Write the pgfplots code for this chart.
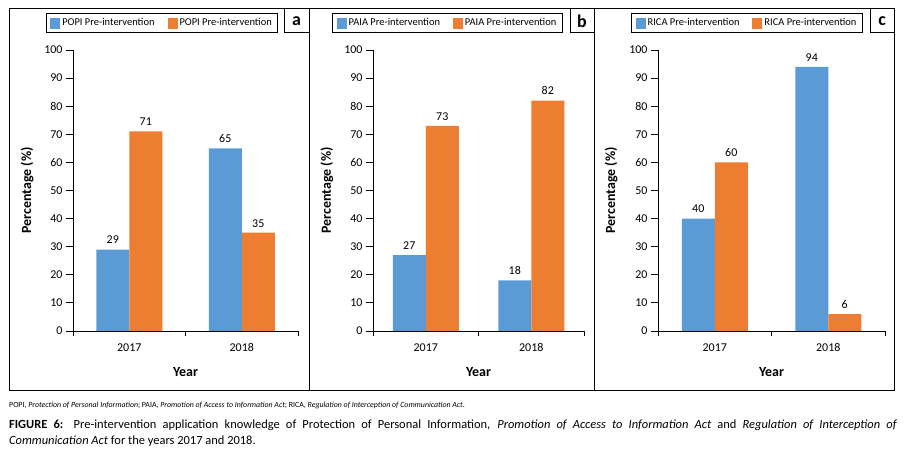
\documentclass[border=0pt]{standalone}
\usepackage{fontspec}
\setmainfont{Carlito}
\usepackage{pgfplots}
\pgfplotsset{compat=1.18}
\definecolor{cblue}{HTML}{5B9BD5}
\definecolor{corange}{HTML}{ED7D31}

\pgfplotsset{
  panel/.style n args={3}{
    scale only axis, width=#1, height=281bp,
    ymin=0, ymax=100, ytick={0,10,...,100},
    xmin=-0.5, xmax=1.5, xtick={0,1}, xticklabels={2017,2018},
    minor xtick={-0.5,0.5,1.5},
    axis lines*=left,
    axis line style={line width=0.9bp},
    tick align=outside,
    major x tick style={draw=none},
    every tick/.style={black, line width=0.9bp},
    major tick length=7bp, minor tick length=5bp,
    ybar=0pt, bar width=33bp,
    tick label style={font=\fontsize{12}{14}\selectfont},
    x tick label style={yshift=-2bp},
    /pgf/number format/assume math mode=true,
    xlabel={Year}, ylabel={Percentage (\%)},
    label style={font=\fontsize{14}{16}\selectfont\bfseries},
    xlabel style={at={(axis description cs:0.5,0)}, anchor=center, yshift=-41bp},
    ylabel style={at={(axis description cs:#2,0.5)}, anchor=center},
    nodes near coords,
    nodes near coords style={font=\fontsize{12}{14}\selectfont, yshift=2bp, black},
    legend columns=2,
    legend style={at={(#3,1.096)}, anchor=center, draw=black, line width=0.9bp,
      font=\fontsize{10.5}{12}\selectfont, inner xsep=4bp, inner ysep=3bp,
      /tikz/every even column/.append style={column sep=11bp}},
    legend image code/.code={\fill[##1, draw=none] (0bp,-5.5bp) rectangle (10bp,5.5bp);},
  }
}

\begin{document}
\begin{tikzpicture}
\useasboundingbox (0bp,0bp) rectangle (909bp,450bp);
% panel frames
\draw[line width=1bp] (9bp,441bp) rectangle (894bp,59bp);
\draw[line width=1bp] (309bp,441bp) -- (309bp,59bp);
\draw[line width=1bp] (594bp,441bp) -- (594bp,59bp);
% panel letters
\draw[line width=1bp] (284bp,441bp) rectangle (309bp,417bp);
\node[font=\fontsize{18}{20}\selectfont\bfseries] at (296.5bp,429bp) {a};
\draw[line width=1bp] (570bp,441bp) rectangle (594bp,417bp);
\node[font=\fontsize{18}{20}\selectfont\bfseries] at (582bp,429bp) {b};
\draw[line width=1bp] (870bp,441bp) rectangle (894bp,417bp);
\node[font=\fontsize{18}{20}\selectfont\bfseries] at (882bp,429bp) {c};

% (a) POPI
\begin{axis}[panel={225bp}{-0.204}{0.3956}, at={(73bp,119bp)}, anchor=south west]
\addplot[fill=cblue, draw=none] coordinates {(0,29) (1,65)};
\addplot[fill=corange, draw=none] coordinates {(0,71) (1,35)};
\addlegendentry{POPI Pre-intervention}
\addlegendentry{POPI Pre-intervention}
\end{axis}

% (b) PAIA
\begin{axis}[panel={211bp}{-0.218}{0.353}, at={(373bp,119bp)}, anchor=south west]
\addplot[fill=cblue, draw=none] coordinates {(0,27) (1,18)};
\addplot[fill=corange, draw=none] coordinates {(0,73) (1,82)};
\addlegendentry{PAIA Pre-intervention}
\addlegendentry{PAIA Pre-intervention}
\end{axis}

% (c) RICA
\begin{axis}[panel={227bp}{-0.207}{0.392}, at={(658bp,119bp)}, anchor=south west]
\addplot[fill=cblue, draw=none] coordinates {(0,40) (1,94)};
\addplot[fill=corange, draw=none] coordinates {(0,60) (1,6)};
\addlegendentry{RICA Pre-intervention}
\addlegendentry{RICA Pre-intervention}
\end{axis}

% caption
\node[anchor=west, inner sep=0, font=\fontsize{7.9}{9}\selectfont] at (9bp,45bp)
  {POPI, \textit{Protection of Personal Information}; PAIA, \textit{Promotion of Access to Information Act}; RICA, \textit{Regulation of Interception of Communication Act}.};
\node[anchor=north west, inner sep=0, text width=888bp, align=justify,
      font=\fontsize{12.5}{16}\selectfont] at (9bp,30.5bp)
  {\hyphenpenalty=10000 \textbf{FIGURE 6:} Pre-intervention application knowledge of Protection of Personal Information, \textit{Promotion of Access to Information Act} and \textit{Regulation of Interception of}\linebreak \textit{Communication Act} for the years 2017 and 2018.};
\end{tikzpicture}
\end{document}
